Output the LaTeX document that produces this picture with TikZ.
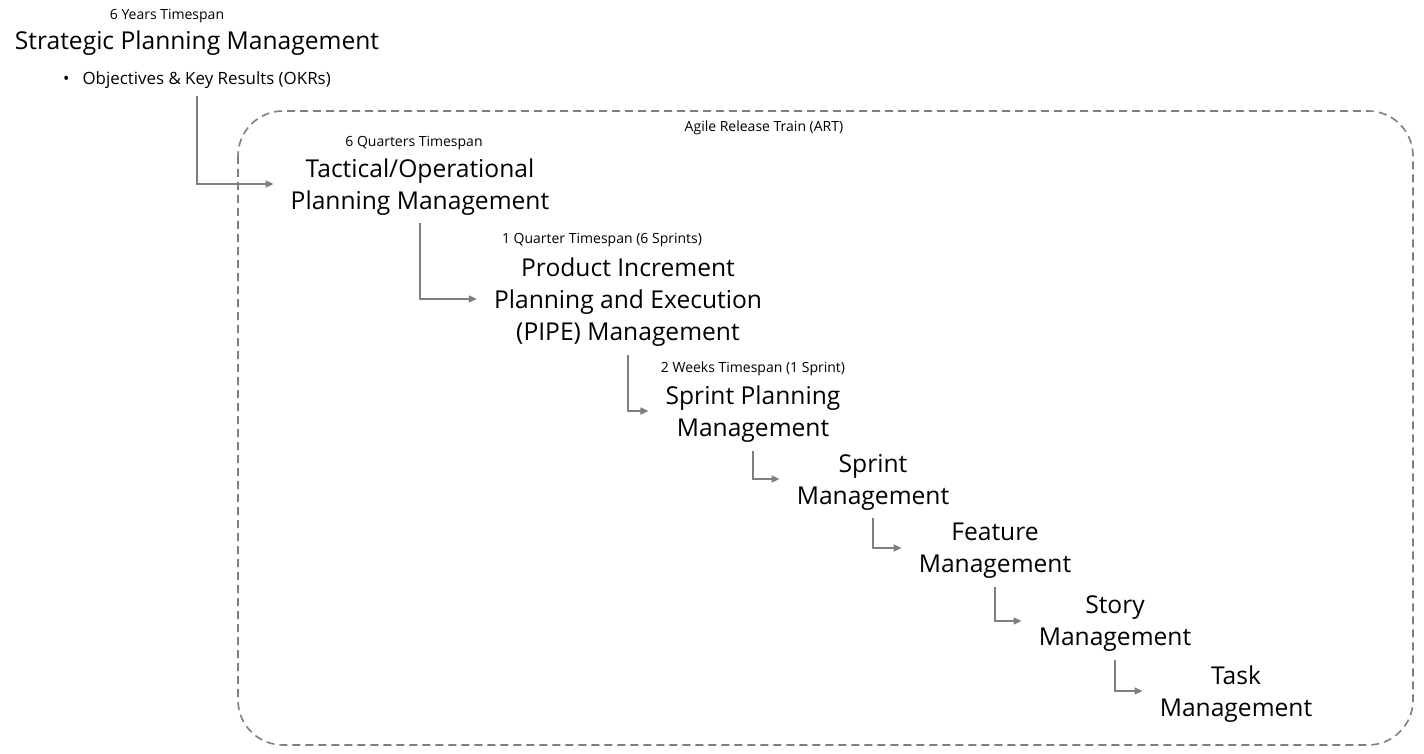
\documentclass[tikz,border=0pt]{standalone}
\usepackage{fontspec}
\setmainfont{Open Sans}
\usetikzlibrary{arrows.meta}
\definecolor{linegray}{HTML}{7F7F7F}
\tikzset{
  x=1pt, y=1pt,
  title/.style={align=center, inner xsep=17pt, inner ysep=2pt, font=\fontsize{24.6}{32}\selectfont, text=black},
  span/.style={font=\fontsize{14}{16}\selectfont, text=black, inner sep=0pt},
  flow/.style={draw=linegray, line width=1.6pt, -{Triangle[length=8pt,width=7pt]}},
  art/.style={draw=linegray, line width=1.6pt, dash pattern=on 8pt off 5pt, rounded corners=45pt}
}
\begin{document}
\begin{tikzpicture}
\useasboundingbox[fill=white] (0,0) rectangle (1424,-754);
% frame
\draw[art] (238,-111) rectangle (1413,-745);
\node[span] (artlbl) at (764,-128) {Agile Release Train (ART)};
% strategic
\node[span] (yrs) at (167,-16) {6 Years Timespan};
\node[title, inner xsep=0pt] (strat) at (197,-43) {Strategic Planning Management};
\node[font=\fontsize{16.9}{20}\selectfont, anchor=west, inner sep=0pt] (okr) at (63,-80) {\textbullet\hspace{13pt}Objectives \& Key Results (OKRs)};
% tactical
\node[title] (tact) at (420,-187) {Tactical/Operational\\Planning Management};
\node[span] (qtrs) at (414,-143) {6 Quarters Timespan};
% pipe
\node[title] (pipe) at (628,-302) {Product Increment\\Planning and Execution\\(PIPE) Management};
\node[span] (qtr) at (602,-240) {1 Quarter Timespan (6 Sprints)};
% sprint planning
\node[title] (spp) at (753,-414) {Sprint Planning\\Management};
\node[span] (wks) at (753,-369) {2 Weeks Timespan (1 Sprint)};
% sprint
\node[title] (spr) at (873,-482) {Sprint\\Management};
% feature
\node[title] (feat) at (995,-551) {Feature\\Management};
% story
\node[title] (story) at (1115,-624) {Story\\Management};
% task
\node[title] (task) at (1236,-694) {Task\\Management};
% connectors
\coordinate (c0) at (strat.center |- 0,-96);
\draw[flow] (c0) |- ([yshift=3pt]tact.west);
\draw[flow] ([yshift=-6pt]tact.south) |- ([yshift=3pt]pipe.west);
\draw[flow] ([yshift=-6pt]pipe.south) |- ([yshift=3pt]spp.west);
\draw[flow] ([yshift=-6pt]spp.south) |- ([yshift=3pt]spr.west);
\draw[flow] ([yshift=-6pt]spr.south) |- ([yshift=3pt]feat.west);
\draw[flow] ([yshift=-6pt]feat.south) |- ([yshift=3pt]story.west);
\draw[flow] ([yshift=-6pt]story.south) |- ([yshift=3pt]task.west);
\end{tikzpicture}
\end{document}
